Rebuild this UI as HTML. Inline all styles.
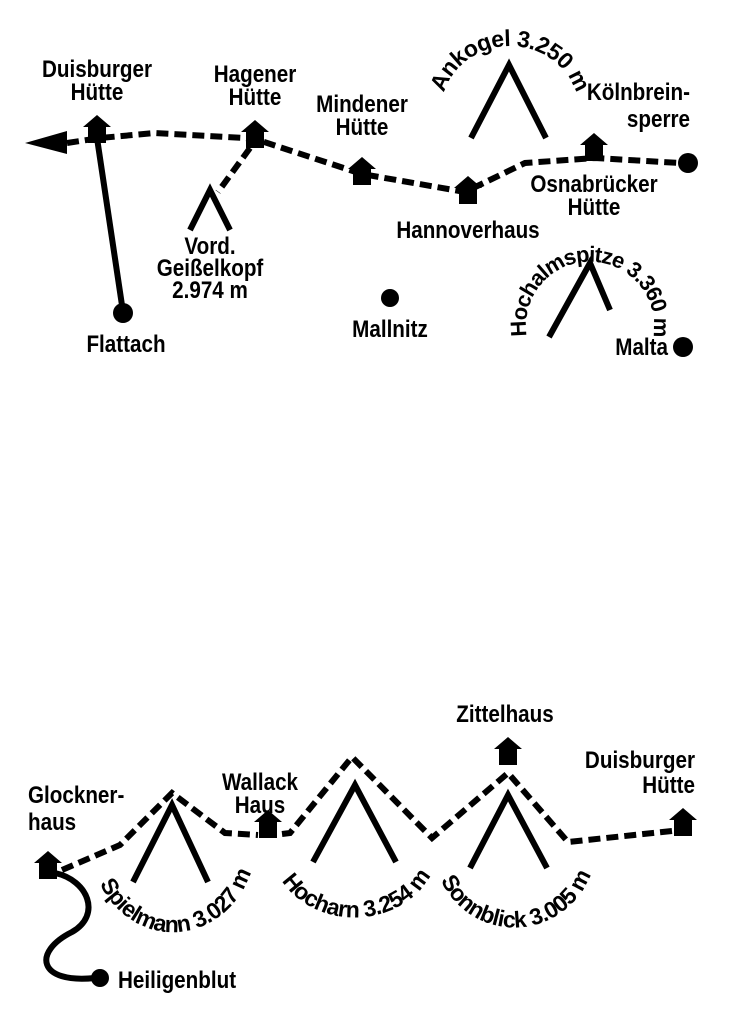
<!DOCTYPE html>
<html><head><meta charset="utf-8"><style>
html,body{margin:0;padding:0;background:#fff}
svg{display:block}
text{font-family:"Liberation Sans Narrow","Liberation Sans",sans-serif;font-weight:bold;font-size:24px;fill:#000}
.c{font-size:23px;letter-spacing:-0.6px}
.c2{font-size:22px;letter-spacing:-1px}
.d{fill:none;stroke:#000;stroke-width:6;stroke-dasharray:12 6}
.s{fill:none;stroke:#000;stroke-width:6}
</style></head><body>
<svg width="730" height="1024" viewBox="0 0 730 1024" xmlns="http://www.w3.org/2000/svg">
<defs>
<symbol id="h" viewBox="0 0 28 28" overflow="visible"><polygon points="14,0 28,12 23,12 23,28 5,28 5,12 0,12" fill="#000"/></symbol>
<path id="a1" d="M 441,112 A 69 66 0 0 1 579,112"/>
<path id="a2" d="M 530,348 A 64 64 0 1 1 650,348"/>
<path id="b1" d="M 90,846 A 83 92 0 0 0 256,834"/>
<path id="b2" d="M 271,848 A 83 72 0 0 0 438,842"/>
<path id="b3" d="M 433,848 A 81 82 0 0 0 596,842"/>
</defs>
<polygon points="25,143 67,131 67,154" fill="#000"/>
<path class="d" d="M67,143 L100,138 L155,133 L245,138 L258,140 L362,174 L465,192 L525,163 L595,158 L680,163"/>
<path class="d" d="M250,148 L218,192"/>
<line class="s" x1="97" y1="138" x2="123" y2="312"/>
<circle cx="123" cy="313" r="10"/>
<circle cx="688" cy="163" r="10"/>
<circle cx="390" cy="298" r="9"/>
<circle cx="683" cy="347" r="10"/>
<use href="#h" x="83" y="115" width="28" height="28"/>
<use href="#h" x="241" y="120" width="28" height="28"/>
<use href="#h" x="348" y="157" width="28" height="28"/>
<use href="#h" x="454" y="176" width="28" height="28"/>
<use href="#h" x="580" y="133" width="28" height="28"/>
<polyline class="s" points="190,230 210,190 230,230"/>
<polyline class="s" points="471,138 509,65 546,138"/>
<polyline class="s" points="549,337 590,263 610,310"/>
<g text-anchor="middle">
<text transform="translate(97 77) scale(.86 1)">Duisburger</text><text transform="translate(97 100) scale(.86 1)">Hütte</text>
<text transform="translate(255 82) scale(.86 1)">Hagener</text><text transform="translate(255 105) scale(.86 1)">Hütte</text>
<text transform="translate(362 112) scale(.86 1)">Mindener</text><text transform="translate(362 135) scale(.86 1)">Hütte</text>
<text transform="translate(594 192) scale(.86 1)">Osnabrücker</text><text transform="translate(594 215) scale(.86 1)">Hütte</text>
<text transform="translate(468 238) scale(.86 1)">Hannoverhaus</text>
<text transform="translate(210 254) scale(.86 1)">Vord.</text><text transform="translate(210 276) scale(.86 1)">Geißelkopf</text><text transform="translate(210 298) scale(.86 1)">2.974 m</text>
<text transform="translate(126 352) scale(.86 1)">Flattach</text>
<text transform="translate(390 337) scale(.86 1)">Mallnitz</text>
<text transform="translate(260 790) scale(.86 1)">Wallack</text><text transform="translate(260 813) scale(.86 1)">Haus</text>
<text transform="translate(505 722) scale(.86 1)">Zittelhaus</text>
</g>
<g text-anchor="end">
<text transform="translate(690 100) scale(.86 1)">Kölnbrein-</text><text transform="translate(690 127) scale(.86 1)">sperre</text>
<text transform="translate(668 355) scale(.86 1)">Malta</text>
<text transform="translate(695 768) scale(.86 1)">Duisburger</text><text transform="translate(695 793) scale(.86 1)">Hütte</text>
</g>
<text class="c" text-anchor="middle"><textPath href="#a1" startOffset="50%">Ankogel 3.250 m</textPath></text>
<text class="c2" text-anchor="middle"><textPath href="#a2" startOffset="50%">Hochalmspitze 3.360 m</textPath></text>
<path class="d" d="M62,870 L120,845 L172,793 L225,833 L258,835 M282,834 L290,833 L352,757 L432,838 L508,773 L568,842 L672,831"/>
<path class="s" stroke-width="4" d="M55,873 C88,880 102,915 72,932 C32,952 38,984 95,978"/>
<circle cx="100" cy="978" r="9"/>
<use href="#h" x="34" y="851" width="28" height="28"/>
<use href="#h" x="254" y="810" width="28" height="28"/>
<use href="#h" x="494" y="737" width="28" height="28"/>
<use href="#h" x="669" y="808" width="28" height="28"/>
<polyline class="s" points="133,882 172,805 208,882"/>
<polyline class="s" points="313,862 355,785 396,862"/>
<polyline class="s" points="470,868 508,795 547,868"/>
<text transform="translate(28 803) scale(.86 1)">Glockner-</text><text transform="translate(28 830) scale(.86 1)">haus</text>
<text transform="translate(118 988) scale(.86 1)">Heiligenblut</text>
<text class="c" text-anchor="middle"><textPath href="#b1" startOffset="50%">Spielmann 3.027 m</textPath></text>
<text class="c" text-anchor="middle"><textPath href="#b2" startOffset="50%">Hocharn 3.254 m</textPath></text>
<text class="c" text-anchor="middle"><textPath href="#b3" startOffset="50%">Sonnblick 3.005 m</textPath></text>
</svg>
</body></html>
